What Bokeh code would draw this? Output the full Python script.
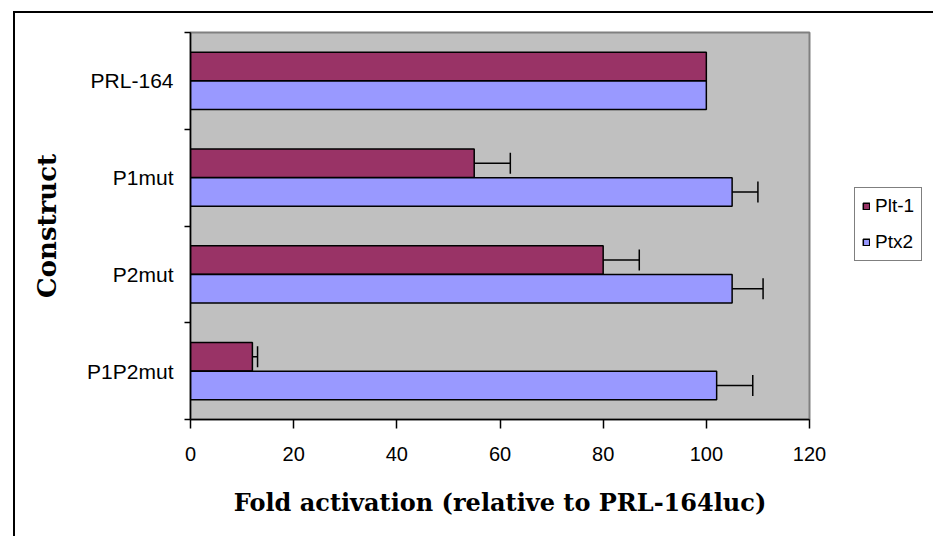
from bokeh.plotting import figure
from bokeh.models import (ColumnDataSource, Range1d, FixedTicker, Whisker, TeeHead,
                          Legend, LegendItem)
from bokeh.embed import file_html
from bokeh.resources import INLINE

# ---- data ----
constructs = ["PRL-164", "P1mut", "P2mut", "P1P2mut"]
series = ["Plt-1", "Ptx2"]
plt1 = [100, 55, 80, 12]
plt1_err = [0, 7, 7, 1]
ptx2 = [100, 105, 105, 102]
ptx2_err = [0, 5, 6, 7]
x_ticks = [0, 20, 40, 60, 80, 100, 120]

colors = {"Plt-1": "#993366", "Ptx2": "#9999FF"}

n = len(constructs)
centers = [n - i - 0.5 for i in range(n)]
off = 0.148
bar_h = 0.295

src1 = ColumnDataSource(dict(y=[c + off for c in centers], v=plt1, name=constructs))
src2 = ColumnDataSource(dict(y=[c - off for c in centers], v=ptx2, name=constructs))


def err_source(vals, errs, sign):
    ys, lo, hi = [], [], []
    for c, v, e in zip(centers, vals, errs):
        if e > 0:
            ys.append(c + sign * off)
            lo.append(v)
            hi.append(v + e)
    return ColumnDataSource(dict(y=ys, lower=lo, upper=hi))


e1 = err_source(plt1, plt1_err, 1)
e2 = err_source(ptx2, ptx2_err, -1)

p = figure(frame_width=619, frame_height=387,
           x_range=Range1d(0, 120), y_range=Range1d(0, n),
           output_backend="svg", toolbar_location=None,
           min_border_left=175, min_border_right=116,
           min_border_top=19, min_border_bottom=117)
p.margin = (11, 0, 0, 13)
p.styles = {"border-left": "2px solid black", "border-top": "2px solid black"}

p.border_fill_color = "white"
p.background_fill_color = "#C0C0C0"
p.outline_line_color = "#808080"
p.outline_line_width = 2
p.grid.visible = False

r1 = p.hbar(y="y", right="v", left=0, height=bar_h, source=src1,
            fill_color=colors["Plt-1"], line_color="black", line_width=1.5)
r2 = p.hbar(y="y", right="v", left=0, height=bar_h, source=src2,
            fill_color=colors["Ptx2"], line_color="black", line_width=1.5)

for es in (e1, e2):
    w = Whisker(base="y", lower="lower", upper="upper", dimension="width", source=es,
                line_color="black", line_width=1.5,
                upper_head=TeeHead(size=21, line_color="black", line_width=1.5),
                lower_head=None)
    p.add_layout(w)

# x axis
xa = p.xaxis[0]
xa.ticker = FixedTicker(ticks=x_ticks, minor_ticks=[])
xa.axis_line_color = "black"
xa.axis_line_width = 1.5
xa.major_tick_line_color = "black"
xa.major_tick_line_width = 1.5
xa.major_tick_in = 0
xa.major_tick_out = 9
xa.minor_tick_line_color = None
xa.major_label_text_font = "Liberation Sans"
xa.major_label_text_font_size = "20px"
xa.major_label_text_color = "black"
xa.major_label_standoff = 18
xa.axis_label = "Fold activation (relative to PRL-164luc)"
xa.axis_label_text_font = "DejaVu Serif"
xa.axis_label_text_font_style = "bold"
xa.axis_label_text_font_size = "24px"
xa.axis_label_text_color = "black"
xa.axis_label_standoff = 24

# y axis
ya = p.yaxis[0]
ya.ticker = FixedTicker(ticks=centers, minor_ticks=[float(k) for k in range(n + 1)])
ya.major_label_overrides = {c: name for c, name in zip(centers, constructs)}
ya.axis_line_color = "black"
ya.axis_line_width = 1.5
ya.major_tick_line_color = None
ya.major_tick_in = 0
ya.major_tick_out = 6
ya.minor_tick_line_color = "black"
ya.minor_tick_line_width = 1.5
ya.minor_tick_in = 0
ya.minor_tick_out = 6
ya.major_label_text_font = "Liberation Sans"
ya.major_label_text_font_size = "21px"
ya.major_label_text_color = "black"
ya.major_label_standoff = 11
ya.axis_label = "Construct"
ya.axis_label_text_font = "DejaVu Serif"
ya.axis_label_text_font_style = "bold"
ya.axis_label_text_font_size = "26px"
ya.axis_label_text_color = "black"
ya.axis_label_standoff = 22

legend = Legend(items=[LegendItem(label=series[0], renderers=[r1]),
                       LegendItem(label=series[1], renderers=[r2])],
                location=(45, 158))
legend.border_line_color = "black"
legend.border_line_width = 1.5
legend.background_fill_color = "white"
legend.background_fill_alpha = 1
legend.label_text_font = "Liberation Sans"
legend.label_text_font_size = "19px"
legend.label_text_color = "black"
legend.glyph_width = 8
legend.glyph_height = 8
legend.label_height = 22
legend.label_standoff = 5
legend.spacing = 14
legend.padding = 7
legend.margin = 0
p.add_layout(legend, "right")

open("out.html", "w").write(file_html(p, INLINE))
